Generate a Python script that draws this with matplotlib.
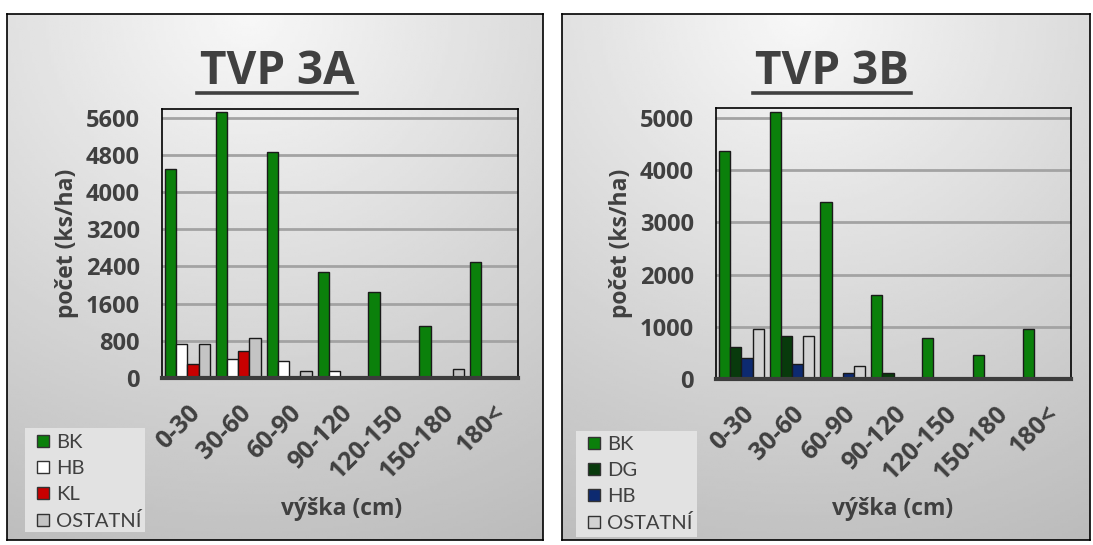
import numpy as np
import matplotlib.pyplot as plt
from matplotlib.patches import Rectangle
from matplotlib.lines import Line2D

plt.rcParams['font.family'] = ['Open Sans', 'DejaVu Sans']

heights = ["0-30", "30-60", "60-90", "90-120", "120-150", "150-180", "180<"]

# TVP 3A
a_species = ["BK", "HB", "KL", "OSTATNÍ"]
a_bk = [4500, 5720, 4870, 2280, 1840, 1125, 2500]
a_hb = [740, 405, 360, 140, 0, 0, 0]
a_kl = [310, 585, 0, 0, 0, 0, 0]
a_ost = [740, 850, 140, 0, 0, 200, 0]
a_colors = ["#0b800b", "#ffffff", "#c80000", "#c4c4c4"]
a_yticks = [0, 800, 1600, 2400, 3200, 4000, 4800, 5600]

# TVP 3B
b_species = ["BK", "DG", "HB", "OSTATNÍ"]
b_bk = [4370, 5120, 3390, 1610, 790, 465, 950]
b_dg = [620, 830, 0, 120, 0, 0, 0]
b_hb = [400, 290, 120, 0, 0, 0, 0]
b_ost = [950, 830, 240, 0, 0, 0, 0]
b_colors = ["#0b800b", "#083a0c", "#0d2a70", "#d2d2d2"]
b_yticks = [0, 1000, 2000, 3000, 4000, 5000]

W, H = 1093, 545
TXT = "#404040"


def rect(x0, y0, x1, y1):
    # pixel box (top-left origin) -> figure fraction
    return [x0 / W, 1 - y1 / H, (x1 - x0) / W, (y1 - y0) / H]


def panel(fig, frame, box, title, title_x, series, names, colors, yticks, ytop, leg_box, leg_xy, xlab_xy):
    bg = fig.add_axes(rect(*frame))
    yy, xx = np.mgrid[0:1:200j, 0:1:200j]
    r = np.sqrt(((xx - 0.45) * 1.0) ** 2 + (yy * 1.05) ** 2)
    grad = 0.97 - 0.24 * np.clip(r, 0, 1.2) / 1.2
    bg.imshow(grad, extent=[0, 1, 0, 1], aspect='auto', cmap='gray', vmin=0, vmax=1, origin='upper')
    bg.set_xticks([])
    bg.set_yticks([])
    for s in bg.spines.values():
        s.set_color('black')
        s.set_linewidth(1.2)

    ax = fig.add_axes(rect(*box))
    ax.set_facecolor('none')
    x = np.arange(len(heights))
    w = 0.22
    for i, (vals, c) in enumerate(zip(series, colors)):
        ax.bar(x + (i - 1.5) * w, vals, w, color=c, edgecolor='#1a1a1a', linewidth=1, zorder=3)
    ax.set_xlim(-0.5, len(heights) - 0.5)
    ax.set_ylim(0, ytop)
    ax.set_yticks(yticks)
    ax.yaxis.grid(True, color='#a3a3a3', linewidth=2)
    ax.set_axisbelow(True)
    ax.axhline(0, color='#3c3c3c', linewidth=3, zorder=5, clip_on=False)
    for s in ax.spines.values():
        s.set_color('black')
        s.set_linewidth(1.2)
    ax.tick_params(length=0, labelsize=17, labelcolor=TXT)
    ax.tick_params(axis='y', pad=16)
    ax.set_xticks(x)
    ax.set_xticklabels(heights, rotation=45, ha='right', va='top', rotation_mode='anchor')
    ax.tick_params(axis='x', pad=16, labelsize=18)
    for lab in ax.get_xticklabels() + ax.get_yticklabels():
        lab.set_fontweight('bold')
    ax.set_ylabel("počet (ks/ha)", fontsize=16.5, fontweight='bold', color=TXT, labelpad=5)

    fig.text(xlab_xy[0] / W, 1 - xlab_xy[1] / H, "výška (cm)", fontsize=16.5, fontweight='bold',
             color=TXT, ha='center', va='center')

    t = fig.text(title_x / W, 1 - 84 / H, title, fontsize=33, fontweight='bold', color=TXT,
                 ha='center', va='baseline')

    # legend background box
    fig.add_artist(Rectangle(rect(*leg_box)[:2], *rect(*leg_box)[2:], transform=fig.transFigure,
                             facecolor='#e2e2e2', edgecolor='none', zorder=2))
    handles = [Rectangle((0, 0), 1, 1, facecolor=c, edgecolor='#333333', linewidth=1) for c in colors]
    leg = fig.legend(handles, names, loc='upper left', bbox_to_anchor=(leg_xy[0] / W, 1 - leg_xy[1] / H),
                     prop={'family': ['Lato', 'DejaVu Sans'], 'size': 14.5}, frameon=False,
                     handlelength=0.6, handleheight=0.6, handletextpad=0.35,
                     labelspacing=0.45, borderpad=0, borderaxespad=0)
    leg.set_zorder(3)
    for txt in leg.get_texts():
        txt.set_color(TXT)
    return t


fig = plt.figure(figsize=(W / 100, H / 100), dpi=100)

t1 = panel(fig, (7, 14, 543, 540), (162, 109, 518, 378), "TVP 3A", 277,
           [a_bk, a_hb, a_kl, a_ost], a_species, a_colors, a_yticks, 5785,
           (25, 428, 145, 532), (37, 434), (342, 509))
t2 = panel(fig, (562, 14, 1090, 540), (716, 108, 1071, 379), "TVP 3B", 832,
           [b_bk, b_dg, b_hb, b_ost], b_species, b_colors, b_yticks, 5187,
           (576, 431, 697, 537), (588, 436), (893, 509))

# underline titles
fig.canvas.draw()
r = fig.canvas.get_renderer()
for t in (t1, t2):
    bb = t.get_window_extent(r)
    y = 1 - 93 / H
    fig.add_artist(Line2D([bb.x0 / W - 0.002, bb.x1 / W + 0.002], [y, y], color=TXT, linewidth=2.6))

fig.savefig("out.png", dpi=100)
